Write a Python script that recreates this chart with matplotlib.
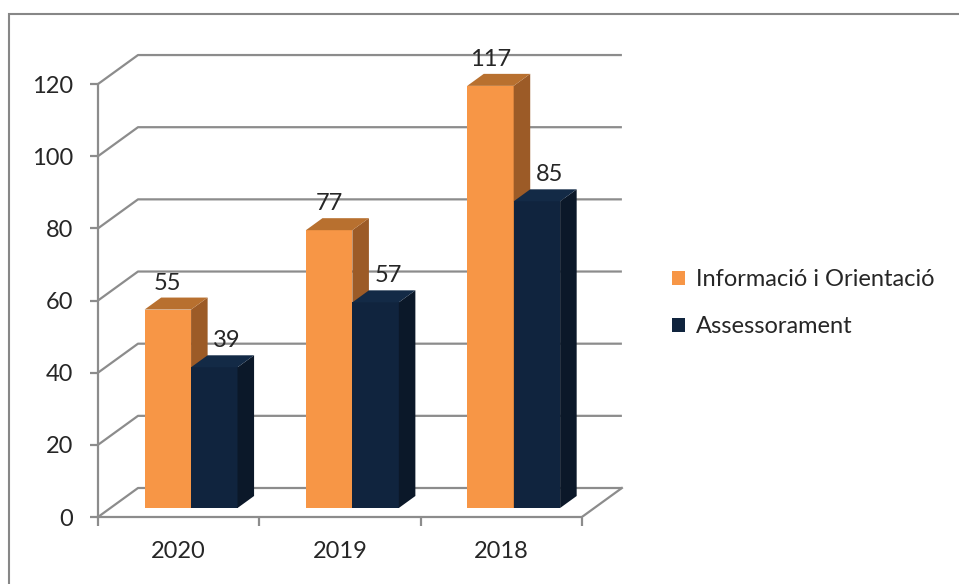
import numpy as np
import matplotlib.pyplot as plt
from matplotlib.patches import Polygon, Rectangle, Patch

# Dades
years = ['2020', '2019', '2018']
info_orient = [55, 77, 117]
assessorament = [39, 57, 85]
series_names = ['Informació i Orientació', 'Assessorament']
y_ticks = [0, 20, 40, 60, 80, 100, 120]

plt.rcParams['font.family'] = ['Lato', 'DejaVu Sans']
txt_color = '#262626'
grid_color = '#8c8c8c'

# colors: front, side, top
orange = ('#f79646', '#9c5b27', '#b8702f')
navy = ('#10243e', '#0b1829', '#132a46')

W, H = 959, 584
fig = plt.figure(figsize=(W / 100, H / 100), dpi=100)

# pixel geometry of the "front plane"
px_cat = 161.3
px_val = 3.608
ax_left, ax_bottom = 98, 517
ax_w, ax_h = 540, 487
ax = fig.add_axes([ax_left / W, (H - ax_bottom) / H, ax_w / W, ax_h / H])
ax.set_xlim(-0.5, -0.5 + ax_w / px_cat)
ax.set_ylim(0, ax_h / px_val)
ax.patch.set_visible(False)

# 3D depth offsets in data units
ddx = 40 / px_cat
ddy = 29 / px_val
f0 = 9 / 29     # bar front plane depth
fd = 12 / 29    # bar depth
x0, x1 = -0.5, 2.5

# walls / gridlines
for v in y_ticks:
    ax.plot([x0, x0 + ddx, x1 + ddx], [v, v + ddy, v + ddy],
            color=grid_color, lw=1.6, zorder=1, solid_capstyle='butt')
ax.plot([x1, x1 + ddx], [0, ddy], color=grid_color, lw=1.6, zorder=1)

# bars
w = 0.288
xc = np.arange(len(years))
bx = f0 * ddx
by = f0 * ddy
sx, sy = fd * ddx, fd * ddy

def draw_bars(xs, vals, cols):
    ax.bar(xs, vals, width=w, bottom=by, color=cols[0], zorder=3, linewidth=0)
    for x, v in zip(xs, vals):
        l, r = x - w / 2, x + w / 2
        top = by + v
        ax.add_patch(Polygon([(r, by), (r + sx, by + sy), (r + sx, top + sy), (r, top)],
                             closed=True, facecolor=cols[1], edgecolor='none', zorder=3))
        ax.add_patch(Polygon([(l, top), (l + sx, top + sy), (r + sx, top + sy), (r, top)],
                             closed=True, facecolor=cols[2], edgecolor='none', zorder=3))

xo = xc + bx - w / 2
xn = xc + bx + w / 2
draw_bars(xo, info_orient, orange)
draw_bars(xn, assessorament, navy)

fs = 17
for x, v in zip(xo, info_orient):
    ax.annotate(str(v), (x, by + v), xytext=(0, 19), textcoords='offset points',
                ha='center', va='center', fontsize=fs, color=txt_color, zorder=5)
for x, v in zip(xn, assessorament):
    ax.annotate(str(v), (x, by + v), xytext=(9, 19), textcoords='offset points',
                ha='center', va='center', fontsize=fs, color=txt_color, zorder=5)

# axes
for s in ['top', 'right']:
    ax.spines[s].set_visible(False)
ax.spines['left'].set_bounds(0, 120)
ax.spines['bottom'].set_bounds(x0, x1)
for s in ['left', 'bottom']:
    ax.spines[s].set_color(grid_color)
    ax.spines[s].set_linewidth(1.6)
    ax.spines[s].set_zorder(2)

ax.set_yticks(y_ticks)
ax.set_yticklabels([str(t) for t in y_ticks])
ax.tick_params(axis='y', length=6, width=1.6, color=grid_color, pad=12,
               labelsize=fs, labelcolor=txt_color)
ax.set_xticks([-0.5, 0.5, 1.5, 2.5])
ax.set_xticklabels([])
ax.set_xticks(xc, minor=True)
ax.set_xticklabels(years, minor=True)
ax.tick_params(axis='x', which='major', length=6.5, width=1.6, color=grid_color)
ax.tick_params(axis='x', which='minor', length=0, pad=17, labelsize=fs, labelcolor=txt_color)

# legend
handles = [Patch(facecolor=orange[0]), Patch(facecolor=navy[0])]
fig.legend(handles, series_names, loc='center left', bbox_to_anchor=(651 / W, 1 - 303 / H),
           frameon=False, fontsize=fs, handlelength=0.55, handleheight=0.55,
           handletextpad=0.45, labelspacing=1.1, labelcolor=txt_color)

# outer chart frame
fig.patches.append(Rectangle((9 / W, -0.1), 1.2, 1.1 - 14 / H, transform=fig.transFigure,
                             fill=False, edgecolor='#878787', lw=1.5))

fig.savefig('out.png', dpi=100)
